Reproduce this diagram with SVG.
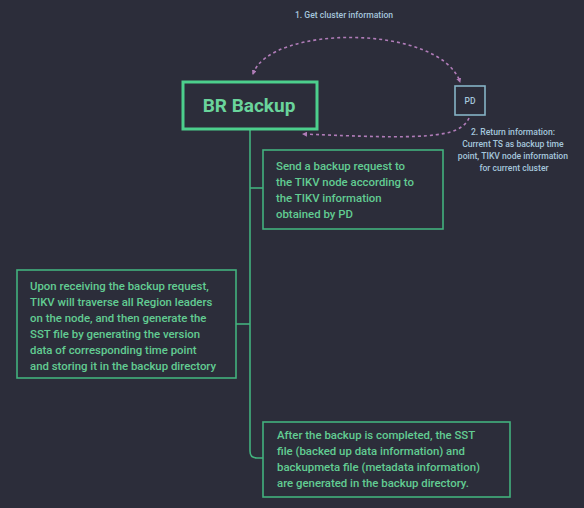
<svg xmlns="http://www.w3.org/2000/svg" width="584" height="508" viewBox="0 0 584 508">
  <defs>
    <style>
      .bg { fill: #2c2d3a; }
      .box { fill: #2c2d3a; stroke: #43b17e; stroke-width: 1.6; }
      .main { fill: #2c2d3a; stroke: #4ccf8c; stroke-width: 3; }
      .pd { fill: #2c2d3a; stroke: #86b3c6; stroke-width: 1.6; }
      .txt { font-family: Roboto, "Liberation Sans", sans-serif; font-size: 11.4px; font-weight: 500; fill: #62cc92; }
      .title { font-family: Roboto, "Liberation Sans", sans-serif; font-size: 19px; font-weight: bold; fill: #6ad49c; }
      .lbl { font-family: Roboto, "Liberation Sans", sans-serif; font-size: 8.6px; font-weight: 500; fill: #a5c6dc; }
      .conn { fill: none; stroke: #43b17e; stroke-width: 1.6; }
      .dash { fill: none; stroke: #b07cb8; stroke-width: 1.6; stroke-dasharray: 3 3; }
    </style>
    <marker id="arr" viewBox="0 0 10 10" refX="8" refY="5" markerWidth="5" markerHeight="5" orient="auto-start-reverse" markerUnits="userSpaceOnUse">
      <path d="M0,0 L10,5 L0,10 z" fill="#b07cb8"/>
    </marker>
  </defs>
  <rect class="bg" x="0" y="0" width="584" height="508"/>

  <g id="connectors">
    <path class="conn" d="M250 130 V451 Q250 458 257 458 H263"/>
    <path class="conn" d="M250 188 H263"/>
    <path class="conn" d="M236 324 H250"/>
    <path class="dash" d="M253 74 C270 24, 440 24, 460 82" marker-start="url(#arr)" marker-end="url(#arr)"/>
    <path class="dash" d="M469 118 C460 139, 420 139, 303 134" marker-end="url(#arr)"/>
    <text class="lbl" x="344" y="18" text-anchor="middle">1. Get cluster information</text>
    <text class="lbl" text-anchor="middle">
      <tspan x="514" y="135">2. Return information:</tspan>
      <tspan x="514" y="147">Current TS as backup time</tspan>
      <tspan x="514" y="159">point, TIKV node information</tspan>
      <tspan x="514" y="171">for current cluster</tspan>
    </text>
  </g>

  <g id="br-backup">
    <rect class="main" x="183" y="82" width="134" height="47"/>
    <text class="title" x="249" y="112" text-anchor="middle">BR Backup</text>
  </g>

  <g id="pd">
    <rect class="pd" x="455" y="86" width="30" height="29"/>
    <text class="lbl" x="470" y="103.5" text-anchor="middle" style="font-size:8.5px">PD</text>
  </g>

  <g id="send-request">
    <rect class="box" x="263" y="150" width="180" height="79"/>
    <text class="txt">
      <tspan x="276" y="170">Send a backup request to</tspan>
      <tspan x="276" y="186">the TIKV node according to</tspan>
      <tspan x="276" y="202">the TIKV information</tspan>
      <tspan x="276" y="218">obtained by PD</tspan>
    </text>
  </g>

  <g id="tikv-traverse">
    <rect class="box" x="17" y="270" width="219" height="108"/>
    <text class="txt">
      <tspan x="30" y="290">Upon receiving the backup request,</tspan>
      <tspan x="30" y="306">TIKV will traverse all Region leaders</tspan>
      <tspan x="30" y="322">on the node, and then generate the</tspan>
      <tspan x="30" y="338">SST file by generating the version</tspan>
      <tspan x="30" y="354">data of corresponding time point</tspan>
      <tspan x="30" y="370">and storing it in the backup directory</tspan>
    </text>
  </g>

  <g id="backup-complete">
    <rect class="box" x="263" y="422" width="247" height="75"/>
    <text class="txt">
      <tspan x="277" y="439">After the backup is completed, the SST</tspan>
      <tspan x="277" y="455">file (backed up data information) and</tspan>
      <tspan x="277" y="471">backupmeta file (metadata information)</tspan>
      <tspan x="277" y="487">are generated in the backup directory.</tspan>
    </text>
  </g>
</svg>
